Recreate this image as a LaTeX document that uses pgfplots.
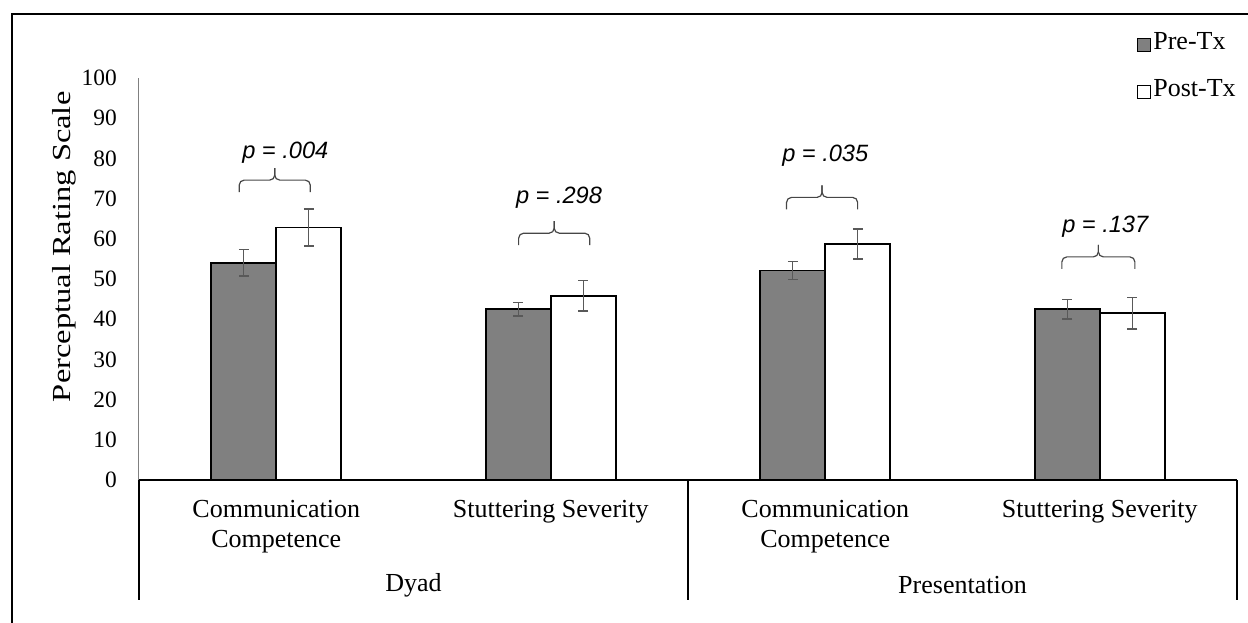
\documentclass[border=0pt]{standalone}
\usepackage{fontspec}
\setmainfont{Liberation Serif}
\newfontfamily\arialfont{Liberation Sans}
\usepackage{pgfplots}
\pgfplotsset{compat=1.18}
\definecolor{barGray}{RGB}{128,128,128}
\definecolor{errGray}{RGB}{89,89,89}
\definecolor{braceGray}{RGB}{70,70,70}
\newcommand{\pbrace}[3]{%
  \draw[braceGray, line width=0.6pt, rounded corners=2.5pt]
    ([yshift=-6pt]axis cs:#1,#3) -- (axis cs:#1,#3) -- (axis cs:{(#1+#2)/2},#3) -- ([yshift=6pt]axis cs:{(#1+#2)/2},#3);
  \draw[braceGray, line width=0.6pt, rounded corners=2.5pt]
    ([yshift=6pt]axis cs:{(#1+#2)/2},#3) -- (axis cs:{(#1+#2)/2},#3) -- (axis cs:#2,#3) -- ([yshift=-6pt]axis cs:#2,#3);
}
\begin{document}
\begin{tikzpicture}
\useasboundingbox (-69.5pt,-71pt) rectangle (554.5pt,240pt);
\draw[line width=1.35pt] (-63.5pt,-90pt) -- (-63.5pt,233pt) -- (620pt,233pt);
\begin{axis}[
  at={(0pt,0pt)}, anchor=south west,
  scale only axis, width=549pt, height=201pt,
  xmin=-0.5, xmax=3.5, ymin=0, ymax=100,
  clip=false,
  axis x line*=bottom, axis y line*=left,
  x axis line style={black, line width=0.8pt},
  y axis line style={gray, line width=0.5pt},
  ybar=0pt, bar width=32.5pt,
  ytick={0,10,...,100},
  xtick={0,1,2,3},
  xticklabels={{Communication\\Competence},{Stuttering Severity},{Communication\\Competence},{Stuttering Severity}},
  xticklabel style={align=center, font=\fontsize{13}{15}\selectfont, yshift=-6.5pt},
  major tick length=0pt,
  tick style={draw=none},
  /pgf/number format/assume math mode=true,
  yticklabel style={font=\fontsize{11.7}{14}\selectfont, xshift=-7.6pt},
  ylabel={\scalebox{1.25}[1]{Perceptual Rating Scale}},
  every axis y label/.style={at={(axis description cs:-0.068,0.58)}, rotate=90, anchor=center, font=\fontsize{13}{15}\selectfont},
  error bars/y dir=both, error bars/y explicit,
  error bars/error bar style={errGray, line width=0.7pt},
  error bars/error mark options={rotate=90, errGray, mark size=2.5pt, line width=0.7pt},
  legend image code/.code={\draw[#1, line width=0.6pt] (0pt,-4.5pt) rectangle (6.5pt,2pt);},
  legend style={draw=none, fill=none, at={(axis description cs:0.9087,1.12)}, anchor=north west,
    font=\fontsize{13}{15}\selectfont, inner sep=0pt, row sep=11.5pt,
    nodes={inner sep=1pt},
    /tikz/every even column/.append style={column sep=0pt}},
  legend cell align=left,
]
\addplot[fill=barGray, draw=black, line width=0.9pt] coordinates {
  (0,54.0) +- (0,3.3)
  (1,42.5) +- (0,1.7)
  (2,52.1) +- (0,2.2)
  (3,42.5) +- (0,2.4)
};
\addlegendentry{Pre-Tx}
\addplot[fill=white, draw=black, line width=0.9pt] coordinates {
  (0,62.8) +- (0,4.6)
  (1,45.8) +- (0,3.8)
  (2,58.7) +- (0,3.7)
  (3,41.5) +- (0,3.9)
};
\addlegendentry{Post-Tx}
% braces
\pbrace{-0.135}{0.124}{74.6}
\pbrace{0.883}{1.142}{61.4}
\pbrace{1.859}{2.118}{70.3}
\pbrace{2.862}{3.128}{55.5}
% p values
\node[anchor=base, font=\arialfont\itshape\fontsize{11.8}{14}\selectfont] at (axis cs:0.033,79.9) {p = .004};
\node[anchor=base, font=\arialfont\itshape\fontsize{11.8}{14}\selectfont] at (axis cs:1.03,68.8) {p = .298};
\node[anchor=base, font=\arialfont\itshape\fontsize{11.8}{14}\selectfont] at (axis cs:2.0,79.2) {p = .035};
\node[anchor=base, font=\arialfont\itshape\fontsize{11.8}{14}\selectfont] at (axis cs:3.02,61.5) {p = .137};
% category separators
\draw[line width=0.8pt] (axis cs:-0.5,0) -- ([yshift=-60pt]axis cs:-0.5,0);
\draw[line width=0.8pt] (axis cs:1.5,0) -- ([yshift=-60pt]axis cs:1.5,0);
\draw[line width=0.8pt] (axis cs:3.5,0) -- ([yshift=-60pt]axis cs:3.5,0);
% group labels
\node[font=\fontsize{13}{15}\selectfont] at (axis cs:0.5,0) [yshift=-52.5pt] {Dyad};
\node[font=\fontsize{13}{15}\selectfont] at (axis cs:2.5,0) [yshift=-52.5pt] {Presentation};
\end{axis}
\end{tikzpicture}
\end{document}
